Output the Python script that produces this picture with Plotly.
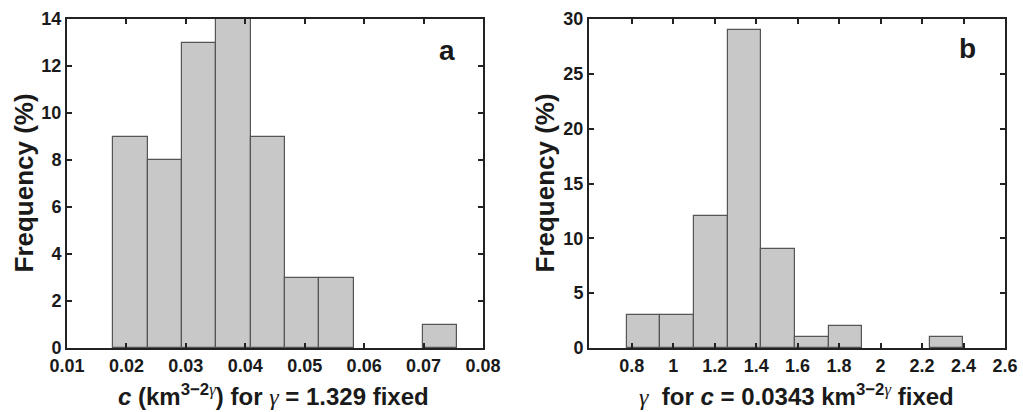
import plotly.graph_objects as go

# ---- data ----
c_edges = [0.0178, 0.02358, 0.02936, 0.03514, 0.04092, 0.0467, 0.05248,
           0.05826, 0.06404, 0.06982, 0.0756]
c_freq = [9, 8, 13, 14, 9, 3, 3, 0, 0, 1]

g_edges = [0.776, 0.938, 1.100, 1.263, 1.425, 1.587, 1.749, 1.911,
           2.074, 2.236, 2.398]
g_freq = [3, 3, 12, 29, 9, 1, 2, 0, 0, 1]

c_ticks = [0.01, 0.02, 0.03, 0.04, 0.05, 0.06, 0.07, 0.08]
c_ticklabels = ["0.01", "0.02", "0.03", "0.04", "0.05", "0.06", "0.07", "0.08"]
g_ticks = [0.8, 1.0, 1.2, 1.4, 1.6, 1.8, 2.0, 2.2, 2.4, 2.6]
g_ticklabels = ["0.8", "1", "1.2", "1.4", "1.6", "1.8", "2", "2.2", "2.4", "2.6"]

FONT = "Liberation Sans, Arial, Helvetica, sans-serif"
GREEK = "font-family:'Liberation Serif','DejaVu Serif',serif;font-style:italic;font-weight:normal"
BAR_FILL = "#c8c8c8"
BAR_LINE = "#555555"
AXIS = "#222222"


def centers(edges):
    return [(a + b) / 2 for a, b in zip(edges[:-1], edges[1:])]


def widths(edges):
    return [b - a for a, b in zip(edges[:-1], edges[1:])]


def nonzero(vals):
    return [v if v else None for v in vals]


fig = go.Figure()
fig.add_trace(go.Bar(x=centers(c_edges), y=nonzero(c_freq), width=widths(c_edges),
                     marker=dict(color=BAR_FILL, line=dict(color=BAR_LINE, width=1.2)),
                     xaxis="x", yaxis="y", showlegend=False))
fig.add_trace(go.Bar(x=centers(g_edges), y=nonzero(g_freq), width=widths(g_edges),
                     marker=dict(color=BAR_FILL, line=dict(color=BAR_LINE, width=1.2)),
                     xaxis="x2", yaxis="y2", showlegend=False))

W, H = 1023, 412
L, R, T, B = 67, 18, 19, 64
pw = W - L - R
d1 = [0, (483 - L) / pw]
d2 = [(589 - L) / pw, 1]

axis_common = dict(showgrid=False, zeroline=False, showline=True, linecolor=AXIS,
                   linewidth=2, mirror="ticks", ticks="inside", ticklen=5,
                   tickwidth=1.5, tickcolor=AXIS, automargin=False,
                   tickfont=dict(family=FONT, size=18, color="#1a1a1a", weight="bold"))

fig.update_layout(
    width=W, height=H,
    margin=dict(l=L, r=R, t=T, b=B, autoexpand=False),
    plot_bgcolor="white", paper_bgcolor="white",
    bargap=0,
    xaxis=dict(domain=d1, range=[0.01, 0.08], tickvals=c_ticks, ticktext=c_ticklabels,
               anchor="y", **axis_common),
    yaxis=dict(range=[0, 14], tickvals=list(range(0, 15, 2)), anchor="x", **axis_common),
    xaxis2=dict(domain=d2, range=[0.594, 2.6], tickvals=g_ticks, ticktext=g_ticklabels,
                anchor="y2", **axis_common),
    yaxis2=dict(range=[0, 30], tickvals=list(range(0, 31, 5)), anchor="x2", **axis_common),
)


def px_x(p):
    return (p - L) / pw


def px_y(p):
    return (H - B - p) / (H - T - B)


g = f"<span style=\"{GREEK}\">γ</span>"
ann_font = dict(family=FONT, color="#1a1a1a")
annotations = [
    dict(text="<b>Frequency (%)</b>", x=px_x(23), y=px_y(183.5), textangle=-90,
         font=dict(size=26, **ann_font)),
    dict(text="<b>Frequency (%)</b>", x=px_x(544), y=px_y(183.5), textangle=-90,
         font=dict(size=26, **ann_font)),
    dict(text=f"<b><i>c</i> (km<sup>3−2</sup></b><sup>{g}</sup><b>) for </b>{g}<b> = 1.329 fixed</b>",
         x=px_x(273), y=px_y(395), font=dict(size=24, **ann_font)),
    dict(text=f"{g}<b>  for <i>c</i> = 0.0343 km<sup>3−2</sup></b><sup>{g}</sup><b> fixed</b>",
         x=px_x(796), y=px_y(395), font=dict(size=24, **ann_font)),
    dict(text="<b>a</b>", x=px_x(447), y=px_y(50), font=dict(size=28, **ann_font)),
    dict(text="<b>b</b>", x=px_x(967), y=px_y(48), font=dict(size=28, **ann_font)),
]
for a in annotations:
    a.update(xref="paper", yref="paper", showarrow=False, xanchor="center", yanchor="middle")
fig.update_layout(annotations=annotations)

fig.write_html("out.html",
               config={"displayModeBar": False},
               post_script="document.body.style.margin='0';document.body.style.padding='0';"
                           "document.documentElement.style.overflow='hidden';")
